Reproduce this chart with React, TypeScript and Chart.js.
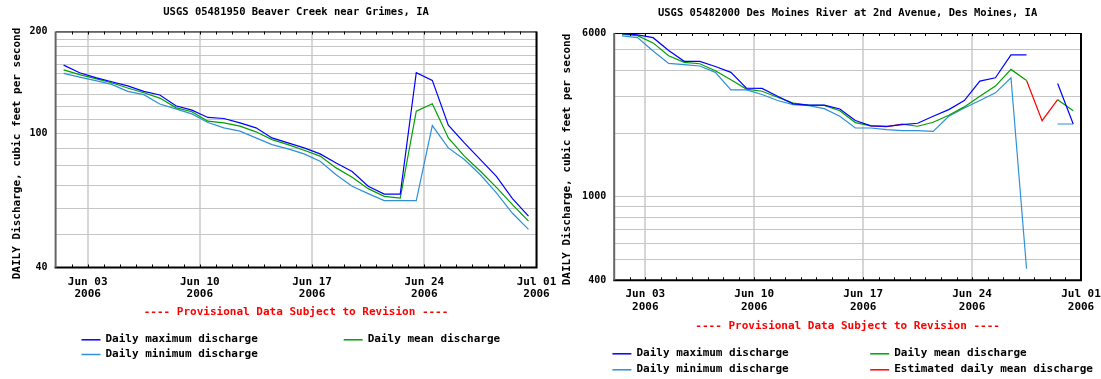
import React, { useEffect, useRef } from 'react';
import { Chart, registerables } from 'chart.js';

Chart.register(...registerables);

// ---------- shared data ----------
const START_DATE = '2006-06-01';
const END_DATE = '2006-07-01';
const DATES = [
  '2006-06-01', '2006-06-02', '2006-06-03', '2006-06-04', '2006-06-05', '2006-06-06',
  '2006-06-07', '2006-06-08', '2006-06-09', '2006-06-10', '2006-06-11', '2006-06-12',
  '2006-06-13', '2006-06-14', '2006-06-15', '2006-06-16', '2006-06-17', '2006-06-18',
  '2006-06-19', '2006-06-20', '2006-06-21', '2006-06-22', '2006-06-23', '2006-06-24',
  '2006-06-25', '2006-06-26', '2006-06-27', '2006-06-28', '2006-06-29', '2006-06-30',
];
const X_TICK_DATES = ['2006-06-03', '2006-06-10', '2006-06-17', '2006-06-24', '2006-07-01'];
const X_TICK_LABELS = [
  ['Jun 03', '2006'],
  ['Jun 10', '2006'],
  ['Jun 17', '2006'],
  ['Jun 24', '2006'],
  ['Jul 01', '2006'],
];
const PROVISIONAL_TEXT = '---- Provisional Data Subject to Revision ----';
const Y_AXIS_TITLE = 'DAILY Discharge, cubic feet per second';

// ---------- Beaver Creek near Grimes ----------
const BEAVER_TITLE = 'USGS 05481950 Beaver Creek near Grimes, IA';
const BEAVER_MAX = [159, 151, 146, 142, 138, 133, 129.7, 120.5, 117, 111.3, 110.5, 107.3, 103.7, 96.8, 93.6, 90.4, 86.8, 81.6, 77, 69.6, 66, 66, 151, 143.3, 105.6, 93.6, 83.5, 74.5, 64, 56.8];
const BEAVER_MEAN = [154, 149, 145, 141, 136, 131.7, 127, 119, 115.7, 108.5, 107.3, 104.9, 100.9, 95.7, 92.5, 89, 85.5, 78.9, 74, 68.5, 65, 64.2, 116.2, 122.2, 96.8, 85.5, 77.1, 69.1, 61.4, 54.9];
const BEAVER_MIN = [150.3, 146.6, 143, 139.4, 133, 130, 122, 118, 114, 107.5, 103.7, 101.4, 96.8, 92.5, 89.8, 86.8, 82.6, 75.3, 69.6, 66.2, 63.1, 63.1, 63.1, 105.3, 90.4, 83.5, 75.3, 66.5, 57.9, 51.9];
const BEAVER_Y_GRID = [40, 50, 60, 70, 80, 90, 100, 110, 120, 130, 140, 150, 160, 170, 180, 190, 200];
const BEAVER_Y_LABELS = [40, 100, 200];

// ---------- Des Moines River at 2nd Avenue ----------
const DM_TITLE = 'USGS 05482000 Des Moines River at 2nd Avenue, Des Moines, IA';
const DM_MAX = [5950, 5880, 5700, 4950, 4400, 4400, 4160, 3900, 3280, 3270, 3000, 2760, 2722, 2722, 2612, 2300, 2170, 2160, 2198, 2233, 2411, 2593, 2864, 3542, 3675, 4718, 4718, null, 3450, 2215];
const DM_MEAN = [5930, 5832, 5383, 4677, 4350, 4286, 3970, 3595, 3246, 3170, 2970, 2785, 2722, 2715, 2560, 2250, 2170, null, 2210, 2161, 2257, 2438, 2672, 3000, 3354, 4027, 3567, null, 2890, 2564];
const DM_MIN = [5814, 5705, 4930, 4300, 4243, 4180, 3900, 3220, 3220, 3059, 2864, 2740, 2710, 2622, 2411, 2120, 2120, 2081, 2060, 2060, 2044, 2411, 2641, 2864, 3116, 3675, 454, null, 2215, 2215];
const DM_EST = [null, null, null, null, null, null, null, null, null, null, null, null, null, null, null, null, 2170, 2150, 2210, null, null, null, null, null, null, null, 3567, 2297, 2890, null];
const DM_Y_GRID = [400, 500, 600, 700, 800, 900, 1000, 2000, 3000, 4000, 5000, 6000];
const DM_Y_LABELS = [400, 1000, 6000];

// ---------- helpers ----------
const DAY_MS = 86400000;
const dayNum = (d: string) => (Date.parse(d) - Date.parse(START_DATE)) / DAY_MS;
const toPoints = (vals: (number | null)[]) =>
  DATES.map((d, i) => ({ x: dayNum(d) + 0.5, y: vals[i] }));

const MONO = '"DejaVu Sans Mono", "Liberation Mono", monospace';

const decorPlugin = {
  id: 'decor',
  afterDraw(chart: any, _args: any, o: any) {
    const { ctx, chartArea: a, scales } = chart;
    const xs = scales.x;
    ctx.save();
    // day minor ticks
    ctx.strokeStyle = '#000';
    ctx.lineWidth = 1;
    ctx.beginPath();
    const total = dayNum(END_DATE);
    for (let d = 1; d < total; d++) {
      const px = Math.round(xs.getPixelForValue(d)) + 0.5;
      ctx.moveTo(px, a.top);
      ctx.lineTo(px, a.top + 3);
      ctx.moveTo(px, a.bottom);
      ctx.lineTo(px, a.bottom - 3);
    }
    ctx.stroke();
    // frame
    ctx.strokeStyle = '#000';
    ctx.lineWidth = 1;
    ctx.beginPath();
    ctx.moveTo(a.left, a.top + 0.5);
    ctx.lineTo(a.right, a.top + 0.5);
    ctx.stroke();
    ctx.lineWidth = 2;
    ctx.beginPath();
    ctx.moveTo(a.right, a.top);
    ctx.lineTo(a.right, a.bottom + 1);
    ctx.moveTo(a.left - 1, a.bottom);
    ctx.lineTo(a.right + 1, a.bottom);
    ctx.stroke();
    ctx.strokeStyle = '#666';
    ctx.beginPath();
    ctx.moveTo(a.left, a.top);
    ctx.lineTo(a.left, a.bottom);
    ctx.stroke();

    // title
    ctx.fillStyle = '#000';
    ctx.textAlign = 'center';
    ctx.textBaseline = 'middle';
    ctx.font = o.titleFont;
    ctx.fillText(o.title, (a.left + a.right) / 2, o.titleY);

    // y axis title
    ctx.save();
    ctx.font = `bold 11px ${MONO}`;
    ctx.translate(o.yTitleX, o.yTitleY);
    ctx.rotate(-Math.PI / 2);
    ctx.fillText(Y_AXIS_TITLE, 0, 0);
    ctx.restore();

    // provisional text
    ctx.fillStyle = '#ff0000';
    ctx.font = `bold 11px ${MONO}`;
    ctx.fillText(PROVISIONAL_TEXT, (a.left + a.right) / 2, o.provY);

    // legend
    ctx.textAlign = 'left';
    ctx.font = `bold 11px ${MONO}`;
    chart.data.datasets.forEach((ds: any, i: number) => {
      const pos = o.legend[i];
      if (!pos) return;
      ctx.strokeStyle = ds.borderColor;
      ctx.lineWidth = 1.5;
      ctx.beginPath();
      ctx.moveTo(pos.x, pos.y + 0.5);
      ctx.lineTo(pos.x + o.sampleW, pos.y + 0.5);
      ctx.stroke();
      ctx.fillStyle = '#000';
      ctx.fillText(ds.label, pos.x + o.sampleW + o.textGap, pos.y);
    });
    ctx.restore();
  },
};

type Series = { label: string; data: (number | null)[]; color: string };

type PanelProps = {
  left: number;
  width: number;
  height: number;
  plot: { left: number; top: number; right: number; bottom: number };
  yMin: number;
  yMax: number;
  yGrid: number[];
  yLabels: number[];
  series: Series[];
  decor: any;
};

function Panel(p: PanelProps) {
  const ref = useRef<HTMLCanvasElement | null>(null);
  useEffect(() => {
    if (!ref.current) return;
    const xTickVals = X_TICK_DATES.map(dayNum);
    const chart = new Chart(ref.current, {
      type: 'line',
      data: {
        datasets: p.series.map((s) => ({
          label: s.label,
          data: toPoints(s.data),
          borderColor: s.color,
          backgroundColor: s.color,
          borderWidth: 1.2,
          pointRadius: 0,
          tension: 0,
          spanGaps: false,
          fill: false,
        })),
      },
      options: {
        responsive: false,
        animation: false,
        devicePixelRatio: 1,
        events: [],
        layout: {
          autoPadding: false,
          padding: { left: 0, top: p.plot.top, right: p.width - p.plot.right, bottom: 0 },
        },
        plugins: {
          legend: { display: false },
          title: { display: false },
          tooltip: { enabled: false },
          decor: p.decor,
        } as any,
        scales: {
          x: {
            type: 'linear',
            min: 0,
            max: dayNum(END_DATE),
            afterBuildTicks: (s: any) => {
              s.ticks = xTickVals.map((v) => ({ value: v }));
            },
            afterFit: (s: any) => {
              s.height = p.height - p.plot.bottom;
              s.paddingLeft = 0;
              s.paddingRight = 0;
            },
            ticks: {
              autoSkip: false,
              maxRotation: 0,
              minRotation: 0,
              padding: 8,
              color: '#000',
              font: { family: MONO, size: 11, weight: 'bold', lineHeight: 1.15 },
              callback: (v: any) => {
                const idx = xTickVals.indexOf(Number(v));
                return idx >= 0 ? X_TICK_LABELS[idx] : '';
              },
            },
            grid: { color: '#d6d6d6', lineWidth: 2, drawTicks: false },
            border: { display: false },
          },
          y: {
            type: 'logarithmic',
            min: p.yMin,
            max: p.yMax,
            afterBuildTicks: (s: any) => {
              s.ticks = p.yGrid.map((v) => ({ value: v }));
            },
            afterFit: (s: any) => {
              s.width = p.plot.left;
              s.paddingTop = 0;
              s.paddingBottom = 0;
            },
            ticks: {
              autoSkip: false,
              padding: 8,
              color: '#000',
              font: { family: MONO, size: 10, weight: 'bold' },
              callback: (v: any) => (p.yLabels.includes(Number(v)) ? String(v) : ''),
            },
            grid: { color: '#c6c6c6', lineWidth: 1, drawTicks: false },
            border: { display: false },
          },
        },
      } as any,
      plugins: [decorPlugin],
    });
    return () => chart.destroy();
  }, []);
  return (
    <canvas
      ref={ref}
      width={p.width}
      height={p.height}
      style={{ position: 'absolute', left: p.left, top: 0, display: 'block', width: p.width, height: p.height }}
    />
  );
}

const BLUE = '#0000ff';
const GREEN = '#00a000';
const LIGHT_BLUE = '#2e90d8';
const RED = '#ff0000';

export default function App() {
  return (
    <div
      style={{
        position: 'absolute',
        left: 0,
        top: 0,
        width: 1101,
        height: 379,
        background: '#fff',
        overflow: 'hidden',
      }}
    >
      <Panel
        left={0}
        width={560}
        height={379}
        plot={{ left: 55.6, top: 31.5, right: 536.5, bottom: 267.5 }}
        yMin={40}
        yMax={200}
        yGrid={BEAVER_Y_GRID}
        yLabels={BEAVER_Y_LABELS}
        series={[
          { label: 'Daily maximum discharge', data: BEAVER_MAX, color: BLUE },
          { label: 'Daily mean discharge', data: BEAVER_MEAN, color: GREEN },
          { label: 'Daily minimum discharge', data: BEAVER_MIN, color: LIGHT_BLUE },
        ]}
        decor={{
          title: BEAVER_TITLE,
          titleFont: `bold 10.5px ${MONO}`,
          titleY: 12.7,
          yTitleX: 16.8,
          yTitleY: 153.5,
          provY: 312.3,
          sampleW: 19,
          textGap: 5,
          legend: [
            { x: 81.5, y: 339.3 },
            { x: 343.7, y: 339.3 },
            { x: 81.5, y: 354 },
          ],
        }}
      />
      <Panel
        left={550}
        width={551}
        height={379}
        plot={{ left: 64.2, top: 33, right: 531, bottom: 280.3 }}
        yMin={400}
        yMax={6000}
        yGrid={DM_Y_GRID}
        yLabels={DM_Y_LABELS}
        series={[
          { label: 'Daily maximum discharge', data: DM_MAX, color: BLUE },
          { label: 'Daily mean discharge', data: DM_MEAN, color: GREEN },
          { label: 'Daily minimum discharge', data: DM_MIN, color: LIGHT_BLUE },
          { label: 'Estimated daily mean discharge', data: DM_EST, color: RED },
        ]}
        decor={{
          title: DM_TITLE,
          titleFont: `bold 10.5px ${MONO}`,
          titleY: 13.3,
          yTitleX: 16.8,
          yTitleY: 159.5,
          provY: 325.7,
          sampleW: 19,
          textGap: 5,
          legend: [
            { x: 62.4, y: 353.3 },
            { x: 320.2, y: 353.3 },
            { x: 62.4, y: 369.3 },
            { x: 320.2, y: 369.3 },
          ],
        }}
      />
    </div>
  );
}
